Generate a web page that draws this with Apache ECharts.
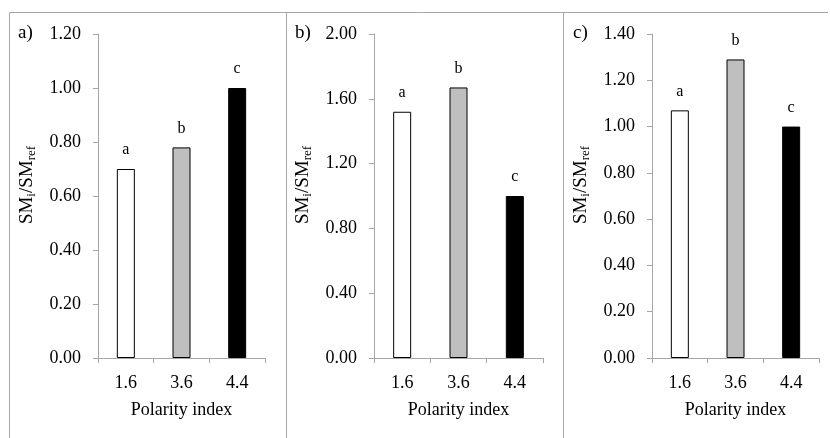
<!DOCTYPE html>
<html>
<head>
<meta charset="utf-8">
<script src="https://cdn.jsdelivr.net/npm/echarts@6/dist/echarts.min.js"></script>
<style>
  html, body { margin: 0; padding: 0; background: #fff; }
  #chart { width: 830px; height: 438px; }
</style>
</head>
<body>
<div id="chart"></div>
<script>
  // data
  var categories = ['1.6', '3.6', '4.4'];
  var sigLetters = ['a', 'b', 'c'];
  var barColors = ['#ffffff', '#bfbfbf', '#000000'];
  var valuesA = [0.70, 0.78, 1.00];
  var valuesB = [1.52, 1.67, 1.00];
  var valuesC = [1.07, 1.29, 1.00];
  var yMax = [1.2, 2.0, 1.4];
  var yStep = [0.2, 0.4, 0.2];
  var panelNames = ['a)', 'b)', 'c)'];

  var font = "'Liberation Serif', 'Times New Roman', serif";
  var axisGray = '#a6a6a6';
  var grids = [
    { left: 98, top: 34, width: 167, height: 324 },
    { left: 374, top: 34, width: 169, height: 324 },
    { left: 652, top: 34, width: 167, height: 324 }
  ];
  var allValues = [valuesA, valuesB, valuesC];

  var xAxes = [], yAxes = [], series = [];
  for (var i = 0; i < 3; i++) {
    xAxes.push({
      type: 'category',
      gridIndex: i,
      data: categories,
      name: 'Polarity index',
      nameLocation: 'middle',
      nameGap: 43,
      nameTextStyle: { fontFamily: font, fontSize: 18, color: '#000' },
      axisLine: { lineStyle: { color: axisGray, width: 1 } },
      axisTick: { show: true, length: 5, lineStyle: { color: axisGray } },
      axisLabel: { fontFamily: font, fontSize: 18, color: '#000', margin: 16 }
    });
    yAxes.push({
      type: 'value',
      gridIndex: i,
      min: 0,
      max: yMax[i],
      interval: yStep[i],
      name: '{m|SM}{s|i}{m|/SM}{s|ref}',
      nameLocation: 'middle',
      nameGap: 60,
      nameTextStyle: {
        fontFamily: font, color: '#000', padding: [0, 0, 0, 22],
        rich: {
          m: { fontFamily: font, fontSize: 19, color: '#000', lineHeight: 22 },
          s: { fontFamily: font, fontSize: 13, color: '#000', lineHeight: 9, verticalAlign: 'bottom' }
        }
      },
      axisLine: { show: true, lineStyle: { color: axisGray, width: 1 } },
      axisTick: { show: true, length: 5, lineStyle: { color: axisGray } },
      splitLine: { show: false },
      axisLabel: {
        fontFamily: font, fontSize: 18, color: '#000', margin: 17,
        formatter: function (v) { return v.toFixed(2); }
      }
    });
    series.push({
      type: 'bar',
      xAxisIndex: i,
      yAxisIndex: i,
      barWidth: 18,
      data: allValues[i].map(function (v, j) {
        return {
          value: v,
          itemStyle: { color: barColors[j], borderColor: '#000', borderWidth: 1 },
          label: { formatter: sigLetters[j] }
        };
      }),
      label: {
        show: true,
        position: 'top',
        distance: 11,
        fontFamily: font,
        fontSize: 16,
        color: '#000'
      }
    });
  }

  var borderStyle = { stroke: axisGray, lineWidth: 1 };
  var graphics = [
    { type: 'line', shape: { x1: 9.5, y1: 12.5, x2: 828, y2: 12.5 }, style: borderStyle },
    { type: 'line', shape: { x1: 9.5, y1: 12.5, x2: 9.5, y2: 438 }, style: borderStyle },
    { type: 'line', shape: { x1: 286.5, y1: 12.5, x2: 286.5, y2: 438 }, style: borderStyle },
    { type: 'line', shape: { x1: 563.5, y1: 12.5, x2: 563.5, y2: 438 }, style: borderStyle }
  ];
  var labelX = [18, 295, 573];
  for (var k = 0; k < 3; k++) {
    graphics.push({
      type: 'text',
      left: labelX[k],
      top: 24,
      style: { text: panelNames[k], fontFamily: font, fontSize: 19, fill: '#000' }
    });
  }

  var chart = echarts.init(document.getElementById('chart'), null, { renderer: 'canvas' });
  chart.setOption({
    backgroundColor: '#fff',
    animation: false,
    grid: grids,
    xAxis: xAxes,
    yAxis: yAxes,
    series: series,
    graphic: graphics
  });
</script>
</body>
</html>
